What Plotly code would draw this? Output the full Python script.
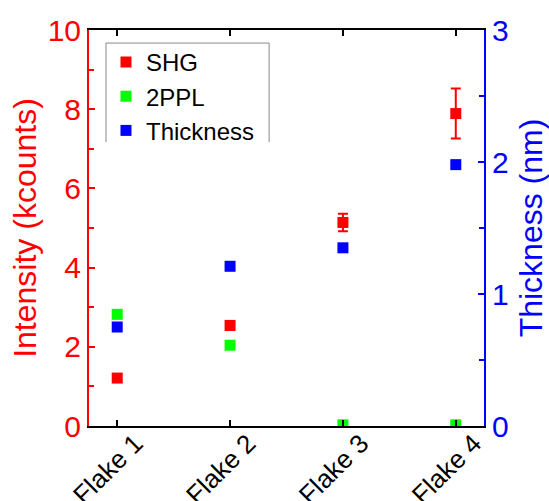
import plotly.graph_objects as go

categories = ["Flake 1", "Flake 2", "Flake 3", "Flake 4"]
shg = [1.21, 2.54, 5.14, 7.89]
shg_err = [0.09, 0.11, 0.22, 0.63]
ppl = [2.82, 2.04, 0.03, 0.03]
ppl_err = [0.06, 0.09, 0.0, 0.0]
thickness = [0.75, 1.21, 1.35, 1.98]

xpos = list(range(len(categories)))
FONT = "Arial, Liberation Sans, sans-serif"
RED = "#ff0000"
GREEN = "#00ff00"
BLUE = "#0000ff"

fig = go.Figure()
fig.add_trace(go.Scatter(
    x=xpos, y=shg, name="SHG", mode="markers",
    marker=dict(symbol="square", size=11, color=RED),
    error_y=dict(type="data", array=shg_err, color=RED, thickness=2, width=5),
))
fig.add_trace(go.Scatter(
    x=xpos, y=ppl, name="2PPL", mode="markers",
    marker=dict(symbol="square", size=11, color=GREEN),
    error_y=dict(type="data", array=ppl_err, color=GREEN, thickness=2, width=4),
))
fig.add_trace(go.Scatter(
    x=xpos, y=thickness, name="Thickness", mode="markers", yaxis="y2",
    marker=dict(symbol="square", size=11, color=BLUE),
))

fig.update_layout(
    width=549, height=501,
    margin=dict(l=89, r=65, t=30, b=75, autoexpand=False),
    paper_bgcolor="white", plot_bgcolor="white",
    font=dict(family=FONT),
    showlegend=True,
    legend=dict(
        x=0.043, y=0.975, xanchor="left", yanchor="top",
        bgcolor="rgba(255,255,255,0)", borderwidth=0,
        font=dict(size=24, color="black", family=FONT),
        tracegroupgap=0,
    ),
    xaxis=dict(
        range=[-0.25, 3.25], automargin=False,
        tickmode="array", tickvals=xpos, ticktext=categories,
        tickangle=-45,
        tickfont=dict(size=26, color="black", family=FONT),
        ticks="inside", ticklen=6, tickwidth=2, tickcolor="black",
        showline=True, linecolor="black", linewidth=2, mirror="ticks",
        showgrid=False, zeroline=False,
        ticklabelshift=18, ticklabelstandoff=-10,
    ),
    yaxis=dict(
        range=[0, 10], dtick=2, automargin=False,
        title=dict(text="Intensity (kcounts)", font=dict(size=32, color=RED, family=FONT), standoff=1),
        tickfont=dict(size=30, color=RED, family=FONT),
        ticks="inside", ticklen=6, tickwidth=2, tickcolor=RED,
        minor=dict(dtick=1, ticks="inside", ticklen=5, tickwidth=2, tickcolor=RED),
        showline=True, linecolor=RED, linewidth=2,
        showgrid=False, zeroline=False,
    ),
    yaxis2=dict(
        range=[0, 3], dtick=1, overlaying="y", side="right", automargin=False,
        title=dict(text="Thickness (nm)", font=dict(size=32, color=BLUE, family=FONT), standoff=13),
        tickfont=dict(size=30, color=BLUE, family=FONT),
        ticks="inside", ticklen=6, tickwidth=2, tickcolor=BLUE,
        minor=dict(dtick=0.5, ticks="inside", ticklen=5, tickwidth=2, tickcolor=BLUE),
        showline=True, linecolor=BLUE, linewidth=2,
        showgrid=False, zeroline=False,
    ),
    shapes=[dict(
        type="path", xref="paper", yref="paper",
        path="M 0.043 0.717 L 0.043 0.967 L 0.456 0.967 L 0.456 0.717",
        line=dict(color="#888888", width=1),
    )],
)

fig.write_html("out.html")
